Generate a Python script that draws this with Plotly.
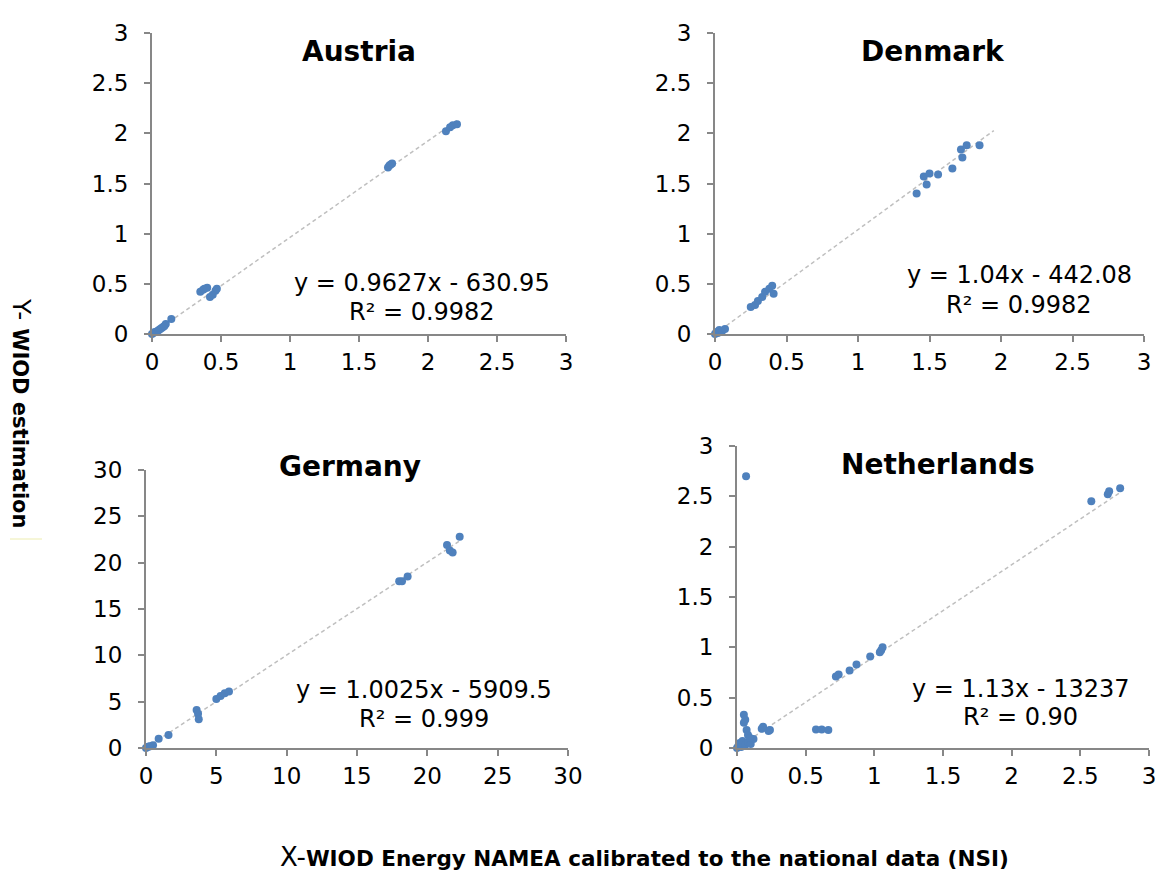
import plotly.graph_objects as go

# ---------------- data ----------------
austria_x = [0.0, 0.01, 0.02, 0.03, 0.04, 0.05, 0.06, 0.07, 0.08, 0.09, 0.10, 0.14,
             0.35, 0.37, 0.38, 0.40, 0.42, 0.44, 0.46, 0.47,
             1.71, 1.72, 1.73, 1.74, 2.13, 2.16, 2.18, 2.21]
austria_y = [0.0, 0.01, 0.02, 0.02, 0.03, 0.04, 0.05, 0.06, 0.07, 0.08, 0.10, 0.15,
             0.42, 0.44, 0.45, 0.46, 0.37, 0.39, 0.43, 0.45,
             1.66, 1.68, 1.69, 1.70, 2.02, 2.06, 2.08, 2.09]

denmark_x = [0.0, 0.01, 0.02, 0.03, 0.05, 0.07, 0.25, 0.28, 0.30, 0.33, 0.35, 0.38, 0.40, 0.41,
             1.41, 1.46, 1.48, 1.50, 1.56, 1.66, 1.72, 1.73, 1.76, 1.85]
denmark_y = [0.0, 0.02, 0.01, 0.04, 0.03, 0.05, 0.27, 0.29, 0.33, 0.37, 0.42, 0.45, 0.48, 0.40,
             1.40, 1.57, 1.49, 1.60, 1.59, 1.65, 1.84, 1.76, 1.88, 1.88]

germany_x = [0.0, 0.1, 0.2, 0.3, 0.5, 0.9, 1.6, 3.6, 3.7, 3.75,
             5.0, 5.3, 5.6, 5.9, 18.0, 18.2, 18.6, 21.4, 21.6, 21.8, 22.3]
germany_y = [0.0, 0.1, 0.15, 0.2, 0.3, 1.0, 1.4, 4.1, 3.7, 3.1,
             5.3, 5.6, 5.9, 6.1, 18.0, 18.0, 18.5, 21.9, 21.3, 21.1, 22.8]

netherlands_x = [0.0, 0.01, 0.02, 0.03, 0.04, 0.06, 0.08, 0.10, 0.12,
                 0.05, 0.05, 0.06, 0.07, 0.08, 0.095, 0.066,
                 0.18, 0.19, 0.23, 0.24, 0.575, 0.617, 0.665,
                 0.72, 0.74, 0.82, 0.87, 0.97, 1.04, 1.05, 1.06,
                 2.58, 2.70, 2.71, 2.79]
netherlands_y = [0.0, 0.02, 0.05, 0.01, 0.07, 0.03, 0.06, 0.04, 0.09,
                 0.33, 0.25, 0.28, 0.18, 0.13, 0.10, 2.70,
                 0.19, 0.21, 0.17, 0.18, 0.185, 0.185, 0.18,
                 0.71, 0.73, 0.77, 0.83, 0.91, 0.95, 0.97, 1.00,
                 2.45, 2.52, 2.55, 2.58]

titles = ["Austria", "Denmark", "Germany", "Netherlands"]
equations = ["y = 0.9627x - 630.95", "y = 1.04x - 442.08",
             "y = 1.0025x - 5909.5", "y = 1.13x - 13237"]
r_squared = ["R² = 0.9982", "R² = 0.9982", "R² = 0.999", "R² = 0.90"]
# drawn trendline slope (as seen in the chart) and its x-extent
trend_slope = [0.9627, 1.04, 1.0025, 0.91]
trend_xmax = [2.21, 1.95, 22.3, 2.79]
axis_max = [3, 3, 30, 3]
tick_step = [0.5, 0.5, 5, 0.5]

# ---------------- layout ----------------
W, H = 1159, 870
# pixel boxes (left, right, top, bottom)
boxes = [(152, 566, 33, 334), (715, 1144, 33, 334),
         (146, 568, 470, 748), (737, 1149, 446, 748)]
title_pos = [(0.5, 0.937), (0.508, 0.937), (0.483, 1.014), (0.488, 0.94)]
eq_pos = [(0.652, 0.171, 0.074), (0.709, 0.195, 0.098),
          (0.659, 0.207, 0.104), (0.687, 0.197, 0.102)]

series = [(austria_x, austria_y), (denmark_x, denmark_y),
          (germany_x, germany_y), (netherlands_x, netherlands_y)]

FONT = "DejaVu Sans, Verdana, sans-serif"
MARK = "#4F81BD"
AX = "#878787"

fig = go.Figure()
annotations = []
for i, (xs, ys) in enumerate(series):
    n = "" if i == 0 else str(i + 1)
    xa, ya = "x" + n, "y" + n
    # trendline
    tx = [0, trend_xmax[i]]
    ty = [trend_slope[i] * v for v in tx]
    fig.add_trace(go.Scatter(x=tx, y=ty, mode="lines", xaxis=xa, yaxis=ya,
                             line=dict(color="#BFBFBF", width=1.5, dash="4px,3px"),
                             showlegend=False, hoverinfo="skip"))
    fig.add_trace(go.Scatter(x=xs, y=ys, mode="markers", xaxis=xa, yaxis=ya,
                             marker=dict(color=MARK, size=8),
                             cliponaxis=False, showlegend=False))
    l, r, t, b = boxes[i]
    axcommon = dict(showgrid=False, zeroline=False, showline=True, linecolor=AX,
                    linewidth=2, ticks="outside", ticklen=6, tickwidth=2, tickcolor=AX,
                    range=[0, axis_max[i]], tick0=0, dtick=tick_step[i], automargin=False,
                    tickfont=dict(family=FONT, size=23, color="black"))
    fig.update_layout(**{
        ("xaxis" + n): dict(domain=[l / W, r / W], anchor=ya, ticklabelstandoff=0, **axcommon),
        ("yaxis" + n): dict(domain=[1 - b / H, 1 - t / H], anchor=xa, ticklabelstandoff=11, **axcommon),
    })
    tx_, ty_ = title_pos[i]
    annotations.append(dict(text="<b>" + titles[i] + "</b>", xref=xa + " domain", yref=ya + " domain",
                            x=tx_, y=ty_, showarrow=False, xanchor="center", yanchor="middle",
                            font=dict(family=FONT, size=28, color="black")))
    ex, ey1, ey2 = eq_pos[i]
    annotations.append(dict(text=equations[i], xref=xa + " domain", yref=ya + " domain",
                            x=ex, y=ey1, showarrow=False, xanchor="center", yanchor="middle",
                            font=dict(family=FONT, size=24, color="black")))
    annotations.append(dict(text=r_squared[i], xref=xa + " domain", yref=ya + " domain",
                            x=ex, y=ey2, showarrow=False, xanchor="center", yanchor="middle",
                            font=dict(family=FONT, size=24, color="black")))

annotations.append(dict(text="Y- <b><span style='font-size:21px'>WIOD estimation</span></b>",
                        xref="paper", yref="paper", x=22 / W, y=1 - 413 / H, textangle=90,
                        showarrow=False, xanchor="center", yanchor="middle",
                        font=dict(family=FONT, size=25, color="black")))
annotations.append(dict(text="X-<b><span style='font-size:21.5px'>WIOD Energy NAMEA calibrated to the national data (NSI)</span></b>",
                        xref="paper", yref="paper", x=644 / W, y=1 - 857 / H,
                        showarrow=False, xanchor="center", yanchor="middle",
                        font=dict(family=FONT, size=26, color="black")))

fig.update_layout(width=W, height=H, margin=dict(l=0, r=0, t=0, b=0),
                  paper_bgcolor="white", plot_bgcolor="white",
                  annotations=annotations,
                  shapes=[dict(type="line", xref="paper", yref="paper",
                               x0=10 / W, x1=42 / W, y0=1 - 539 / H, y1=1 - 539 / H,
                               line=dict(color="#EDEDB0", width=1))])

fig.write_html("out.html", config={"displayModeBar": False},
               post_script="document.body.style.margin='0px';document.body.style.overflow='hidden';")
